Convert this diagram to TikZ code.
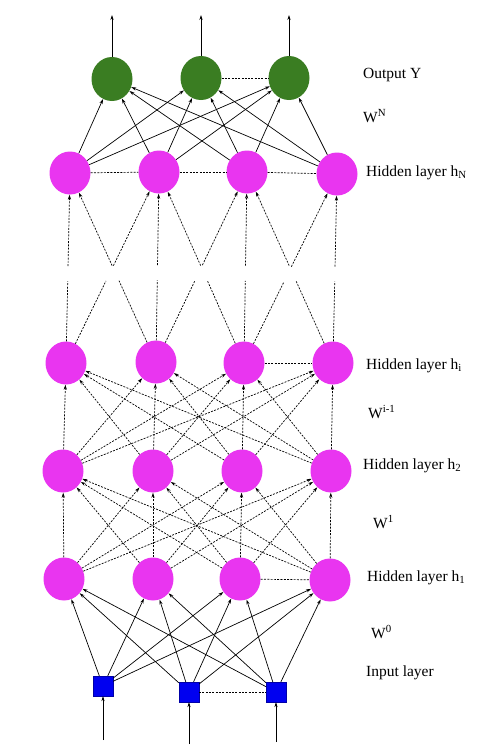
\documentclass[tikz,border=0pt]{standalone}
\usepackage{fontspec}
\setmainfont{Liberation Serif}
\usetikzlibrary{shapes.geometric,arrows.meta,calc}
\definecolor{outgreen}{RGB}{58,125,34}
\definecolor{hidmag}{RGB}{233,53,240}
\definecolor{inblue}{RGB}{0,0,240}
\begin{document}
\begin{tikzpicture}[x=1pt,y=-1pt,
  outnode/.style={ellipse,fill=outgreen,minimum width=41pt,minimum height=44pt,inner sep=0pt},
  hidnode/.style={ellipse,fill=hidmag,minimum width=41pt,minimum height=43pt,inner sep=0pt},
  innode/.style={rectangle,fill=inblue,draw=inblue!70!black,line width=0.3pt,minimum size=20pt,inner sep=0pt},
  tip/.style={-{Stealth[length=5pt,width=3.2pt]}},
  sarr/.style={tip,line width=0.7pt,black},
  darr/.style={tip,line width=0.7pt,black,dash pattern=on 2pt off 1.3pt},
  dline/.style={line width=0.7pt,black,dash pattern=on 2pt off 1.3pt},
  lbl/.style={anchor=west,inner sep=0pt,font=\fontsize{15.5}{18}\selectfont}]
\useasboundingbox (0,0) rectangle (494,748);
% output layer
\node[outnode] (o1) at (112,79) {};
\node[outnode] (o2) at (201,78) {};
\node[outnode] (o3) at (289,78) {};
% hidden layer hN
\node[hidnode] (n1) at (70,173) {};
\node[hidnode] (n2) at (159,172) {};
\node[hidnode] (n3) at (247,172) {};
\node[hidnode] (n4) at (337,174) {};
% hidden layer hi
\node[hidnode] (i1) at (66,363) {};
\node[hidnode] (i2) at (156,362) {};
\node[hidnode] (i3) at (244,363) {};
\node[hidnode] (i4) at (333,363) {};
% hidden layer h2
\node[hidnode] (s1) at (63,471) {};
\node[hidnode] (s2) at (153,471) {};
\node[hidnode] (s3) at (242,471) {};
\node[hidnode] (s4) at (331,471) {};
% hidden layer h1
\node[hidnode] (f1) at (64,579) {};
\node[hidnode] (f2) at (153,579) {};
\node[hidnode] (f3) at (240,579) {};
\node[hidnode] (f4) at (330,580) {};
% input layer
\node[innode] (x1) at (103,686) {};
\node[innode] (x2) at (189,692) {};
\node[innode] (x3) at (276,692) {};
% free ends
\coordinate (t1) at (112,15);
\coordinate (t2) at (201,15);
\coordinate (t3) at (289,15);
\coordinate (b1) at (103,740);
\coordinate (b2) at (189,744);
\coordinate (b3) at (276,742);
% output arrows
\foreach \k in {1,2,3} \draw[sarr] (o\k) -- (t\k);
% input arrows
\foreach \k in {1,2,3} \draw[sarr] (b\k) -- (x\k);
% hN -> output
\foreach \a in {1,2,3,4} \foreach \b in {1,2,3} \draw[sarr] (n\a) -- (o\b);
% input -> h1
\foreach \a in {1,2,3} \foreach \b in {1,2,3,4} \draw[sarr] (x\a) -- (f\b);
% h1 -> h2
\foreach \a in {1,2,3,4} \foreach \b in {1,2,3,4} \draw[darr] (f\a) -- (s\b);
% h2 -> hi
\foreach \a in {1,2,3,4} \foreach \b in {1,2,3,4} \draw[darr] (s\a) -- (i\b);
% hi -> hN (broken)
\foreach \a/\b in {1/1,1/2,2/1,2/2,2/3,3/2,3/3,3/4,4/3,4/4} {
  \draw[dline] (i\a) -- ($(i\a)!0.43!(n\b)$);
  \draw[darr] ($(i\a)!0.51!(n\b)$) -- (n\b);
}
% horizontal dashed links
\draw[dline] (o2) -- (o3);
\draw[dline] (n1) -- (n2);
\draw[dline] (n2) -- (n3);
\draw[dline] (n3) -- (n4);
\draw[dline] (i3) -- (i4);
\draw[dline] (f3) -- (f4);
\draw[dline] (x2) -- (x3);
% labels
\node[lbl] (l1) at (363,75) {Output Y};
\node[lbl] (l2) at (363,116) {W\textsuperscript{N}};
\node[lbl] (l3) at (366,173) {Hidden layer h\textsubscript{N}};
\node[lbl] (l4) at (366,366) {Hidden layer h\textsubscript{i}};
\node[lbl] (l5) at (368,412) {W\textsuperscript{i-1}};
\node[lbl] (l6) at (363,466) {Hidden layer h\textsubscript{2}};
\node[lbl] (l7) at (373,522) {W\textsuperscript{1}};
\node[lbl] (l8) at (367,578) {Hidden layer h\textsubscript{1}};
\node[lbl] (l9) at (371,632) {W\textsuperscript{0}};
\node[lbl] (l10) at (366,673) {Input layer};
\end{tikzpicture}
\end{document}
